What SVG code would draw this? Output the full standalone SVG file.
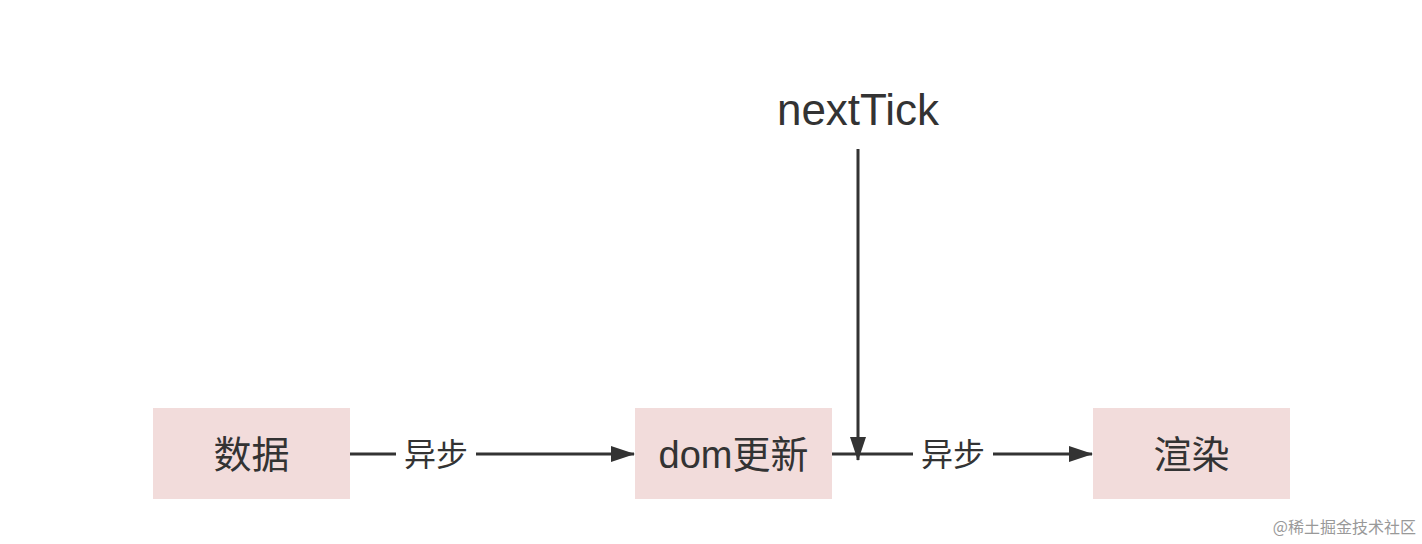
<svg xmlns="http://www.w3.org/2000/svg" width="1422" height="544" viewBox="0 0 1422 544">
<style>
.box{fill:#f2dcdb}
.t{font-family:"Liberation Sans","Noto Sans CJK SC",sans-serif;fill:#333;text-anchor:middle}
.line{stroke:#333;stroke-width:3;fill:none}
.bg{fill:#fff}
</style>
<defs>
<marker id="ah" markerWidth="24" markerHeight="16" refX="23" refY="8" orient="auto" markerUnits="userSpaceOnUse">
<path d="M0,0 L24,8 L0,16 Z" fill="#333"/>
</marker>
</defs>
<rect width="1422" height="544" fill="#fff"/>
<g id="n1"><rect class="box" x="153" y="408" width="197" height="91"/><text class="t" x="251.5" y="468" font-size="38">数据</text></g>
<g id="n2"><rect class="box" x="635" y="408" width="197" height="91"/><text class="t" x="733.5" y="468" font-size="38">dom更新</text></g>
<g id="n3"><rect class="box" x="1093" y="408" width="197" height="91"/><text class="t" x="1191.5" y="468" font-size="38">渲染</text></g>
<g id="n4"><text class="t" x="858" y="125" font-size="44">nextTick</text></g>
<g id="connectors">
<line class="line" x1="350" y1="454" x2="634" y2="454" marker-end="url(#ah)"/>
<rect class="bg" x="396" y="435" width="80" height="38"/>
<text class="t" x="436" y="466" font-size="32">异步</text>
<line class="line" x1="832" y1="454" x2="1092" y2="454" marker-end="url(#ah)"/>
<rect class="bg" x="913" y="435" width="80" height="38"/>
<text class="t" x="953" y="466" font-size="32">异步</text>
<line class="line" x1="858" y1="149" x2="858" y2="460" marker-end="url(#ah)"/>
</g>
<text x="1416" y="533" font-size="16" fill="#999" text-anchor="end" font-family="'Noto Sans CJK SC',sans-serif">@稀土掘金技术社区</text>
</svg>
